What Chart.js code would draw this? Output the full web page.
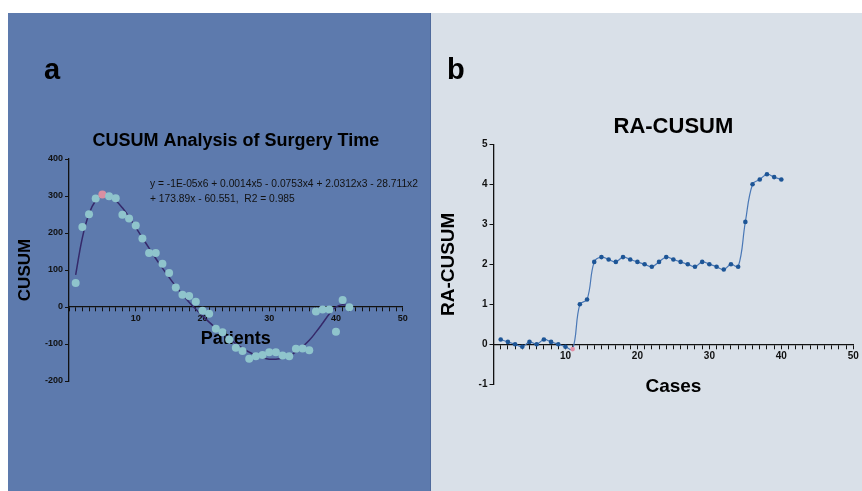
<!DOCTYPE html>
<html>
<head>
<meta charset="utf-8">
<title>CUSUM / RA-CUSUM</title>
<script src="https://cdn.jsdelivr.net/npm/chart.js@4.4.1/dist/chart.umd.min.js"></script>
<style>
  html, body { margin: 0; padding: 0; background: #fff; }
  body { width: 862px; height: 491px; position: relative; overflow: hidden;
         font-family: 'Liberation Sans', Arial, sans-serif; }
  .panel { position: absolute; top: 13px; height: 478px; }
  #panelA { left: 8px; width: 422px; background: #5d7aad; }
  #panelB { left: 430px; width: 432px; background: #d9e0e8; border-left: 1px solid #4f6a9c; box-sizing: border-box; }
  .panel canvas { position: absolute; left: 0; top: 0; }
  #panelB canvas { left: -1px; }
  .tag { position: absolute; font-weight: bold; font-size: 29px; line-height: 29px; color: #000; }
</style>
</head>
<body>
  <div class="panel" id="panelA"><canvas id="chartA" width="422" height="478"></canvas></div>
  <div class="panel" id="panelB"><canvas id="chartB" width="432" height="478"></canvas></div>
  <div class="tag" style="left:44px;top:55px">a</div>
  <div class="tag" style="left:447px;top:55px">b</div>

<script>
// ======== DATA ===============================
// panel a: CUSUM of surgery time per patient
const patientNo = [1,2,3,4,5,6,7,8,9,10,11,12,13,14,15,16,17,18,19,20,21,
                   22,23,24,25,26,27,28,29,30,31,32,33,34,35,36,37,38,39,40,41,42];
const cusumTime = [65,216,251,293,304,299,294,249,239,220,185,146,146,117,92,53,33,30,14,-10,-18,
                   -59,-68,-88,-110,-119,-140,-133,-130,-122,-122,-131,-133,-113,-112,-117,-12,-7,-7,-67,19,-1];
// polynomial trend line, as drawn in the figure
const trendCurve = [87,187,252,288,302,301,288,268,243,215,187,159,131,105,80,56,34,13,-6,-24,-41,
                    -57,-72,-86,-99,-111,-122,-131,-137,-141,-141,-138,-131,-121,-107,-90,-68,-44,-19,0,6,1];
const peakPatient = 5;
const equationLines = [
  'y = -1E-05x6 + 0.0014x5 - 0.0753x4 + 2.0312x3 - 28.711x2',
  '+ 173.89x - 60.551,  R2 = 0.985'
];

// panel b: risk adjusted CUSUM per case
const caseNo = [1,2,3,4,5,6,7,8,9,10,11,12,13,14,15,16,17,18,19,20,
                21,22,23,24,25,26,27,28,29,30,31,32,33,34,35,36,37,38,39,40];
const raCusum = [0.12,0.06,0,-0.06,0.06,0,0.12,0.06,0,-0.06,-0.12,1.0,1.12,2.06,2.18,2.12,2.06,2.18,2.12,2.06,
                 2.0,1.94,2.06,2.18,2.12,2.06,2.0,1.94,2.06,2.0,1.94,1.87,2.0,1.94,3.06,4.0,4.12,4.25,4.18,4.12];
const turnCase = 11;

const xTicksA = { min: 0, max: 50, step: 1, labelEvery: 10 };
const yTicksA = { min: -200, max: 400, step: 100 };
const xTicksB = { min: 0, max: 50, step: 1, labelEvery: 10 };
const yTicksB = { min: -1, max: 5, step: 1 };

// ======== HELPERS ========
const FONT = "'Liberation Sans', Arial, sans-serif";
Chart.defaults.font.family = FONT;
Chart.defaults.color = '#111';

const toPoints = (xs, ys) => xs.map((x, i) => ({ x, y: ys[i] }));

// x axis sits on y = 0 and is drawn above the marks (its title covers them, as in the figure)
function xAxis(t, title, tickSize, titleSize, titleGap) {
  return {
    type: 'linear', position: { y: 0 }, min: t.min, max: t.max, z: 1,
    border: { display: true, color: '#111', width: 1.3 },
    grid: { drawOnChartArea: false, drawTicks: true, tickLength: 4, color: '#111', tickWidth: 1 },
    ticks: {
      stepSize: t.step, autoSkip: false, maxRotation: 0, padding: 2, color: '#111',
      font: { size: tickSize, weight: 'bold' },
      callback: v => (v !== 0 && v % t.labelEvery === 0) ? v : ''
    },
    title: { display: true, text: title, color: '#000',
             font: { size: titleSize, weight: 'bold' }, padding: { top: titleGap, bottom: 0 } }
  };
}

function yAxis(t, title, width, tickSize, titleSize, titleGap) {
  return {
    type: 'linear', position: 'left', min: t.min, max: t.max,
    afterFit: s => { s.width = width; },
    border: { display: true, color: '#111', width: 1.3 },
    grid: { drawOnChartArea: false, drawTicks: true, tickLength: 4, color: '#111', tickWidth: 1 },
    ticks: { stepSize: t.step, padding: 2, color: '#111', font: { size: tickSize, weight: 'bold' } },
    title: { display: true, text: title, color: '#000',
             font: { size: titleSize, weight: 'bold' }, padding: { top: titleGap, bottom: 0 } }
  };
}

const equationLabel = {
  id: 'equationLabel',
  afterDraw(chart) {
    const ctx = chart.ctx;
    ctx.save();
    ctx.font = '10.25px ' + FONT;
    ctx.fillStyle = '#111';
    ctx.textBaseline = 'middle';
    ctx.fillText(equationLines[0], 142, 171.5);
    ctx.fillText(equationLines[1], 142, 186.5);
    ctx.restore();
  }
};

// ======== PANEL A ========
new Chart(document.getElementById('chartA'), {
  type: 'line',
  data: {
    datasets: [
      {
        label: 'CUSUM', data: toPoints(patientNo, cusumTime), showLine: false,
        pointRadius: 4, pointHoverRadius: 4, pointBorderWidth: 0,
        pointBackgroundColor: c => patientNo[c.dataIndex] === peakPatient ? '#d98fa2' : '#8fc4cc'
      },
      {
        label: 'Poly. (CUSUM)', data: toPoints(patientNo, trendCurve),
        borderColor: '#35296a', borderWidth: 1.5, pointRadius: 0, tension: 0.4, fill: false
      }
    ]
  },
  options: {
    responsive: false, animation: false,
    layout: { padding: { top: 117.2, right: 27.3, bottom: 110, left: 0 } },
    plugins: {
      legend: { display: false }, tooltip: { enabled: false },
      title: { display: true, text: 'CUSUM Analysis of Surgery Time', fullSize: false, color: '#000',
               font: { size: 18, weight: 'bold' }, padding: { top: 0, bottom: 7.2 } }
    },
    scales: {
      x: xAxis(xTicksA, 'Patients', 9, 18, 2),
      y: yAxis(yTicksA, 'CUSUM', 61, 9, 17, 7.6)
    }
  },
  plugins: [equationLabel]
});

// ======== PANEL B ========
new Chart(document.getElementById('chartB'), {
  type: 'line',
  data: {
    datasets: [{
      label: 'RA-CUSUM', data: toPoints(caseNo, raCusum),
      borderColor: '#4a78b6', borderWidth: 1.2, tension: 0.4, fill: false,
      pointRadius: 2.3, pointHoverRadius: 2.3, pointBorderWidth: 0,
      pointBackgroundColor: c => caseNo[c.dataIndex] === turnCase ? '#e38ea4' : '#1d5596'
    }]
  },
  options: {
    responsive: false, animation: false,
    layout: { padding: { top: 100.8, right: 8.7, bottom: 106.7, left: 0 } },
    plugins: {
      legend: { display: false }, tooltip: { enabled: false },
      title: { display: true, text: 'RA-CUSUM', fullSize: false, color: '#000',
               font: { size: 22, weight: 'bold' }, padding: { top: 0, bottom: 4.1 } }
    },
    scales: {
      x: xAxis(xTicksB, 'Cases', 10, 19, 11),
      y: yAxis(yTicksB, 'RA-CUSUM', 63.5, 10, 19, 7.6)
    }
  }
});
</script>
</body>
</html>
